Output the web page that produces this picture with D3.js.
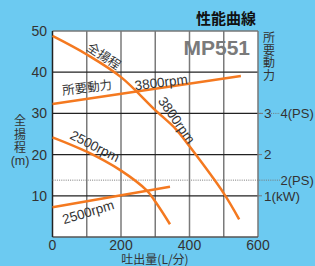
<!DOCTYPE html>
<html><head><meta charset="utf-8">
<script src="https://cdn.jsdelivr.net/npm/d3@7"></script>
<style>html,body{margin:0;padding:0;background:#6ccaf1;}svg{display:block;}</style>
</head><body>
<script>
// ---- data ----
const xTicks = [0, 200, 400, 600];
const xGrid = [100, 200, 300, 400, 500];
const yTicks = [10, 20, 30, 40, 50];
const yGrid = [10, 20, 30, 40];
const head3800 = [[0,48.8],[100,44.3],[200,38.8],[300,30.8],[360,26.2],[400,22],[500,10.6],[545,4.3]];
const power3800 = [[0,32.3],[550,39.1]];
const head2500 = [[0,24.2],[100,20.7],[200,16.1],[275,11.3],[300,8.6],[343,3.1]];
const power2500 = [[0,7.2],[343,12.2]];
const kWTicks = [1, 2, 3];        // right axis (kW), 1 kW = 10 m on left scale
const psMarks = [{label:"2(PS)", kw:1.38}, {label:"4(PS)", kw:3}];
const curveLabels = [
  {text:"全揚程", x:150, y:43.9, a:34},
  {text:"所要動力", x:101, y:36.3, a:-7},
  {text:"3800rpm", x:317, y:37.6, a:-7},
  {text:"3800rpm", x:363, y:28.4, a:55},
  {text:"2500rpm", x:124, y:22.1, a:27},
  {text:"2500rpm", x:104, y:6.1, a:-17}
];

// ---- chart ----
const W = 315, H = 266;
const svg = d3.select("body").append("svg").attr("width", W).attr("height", H);
svg.append("rect").attr("width", W).attr("height", H).attr("fill", "#6ccaf1");
const x = d3.scaleLinear().domain([0, 600]).range([52.5, 258]);
const y = d3.scaleLinear().domain([0, 50]).range([237, 31]);
const yk = d3.scaleLinear().domain([0, 5]).range([237, 31]);
const font = "'Liberation Sans', Arial, sans-serif";
const cjk = "'Noto Sans CJK JP', sans-serif";

svg.append("rect").attr("x", x(0)).attr("y", y(50)).attr("width", x(600)-x(0)).attr("height", y(0)-y(50)).attr("fill", "#fff");

// grid
svg.selectAll(".vg").data(xGrid).enter().append("line")
  .attr("x1", d=>x(d)).attr("x2", d=>x(d)).attr("y1", y(0)).attr("y2", y(50))
  .attr("stroke", "#7a7a7a").attr("stroke-width", 1.5);
svg.selectAll(".hg").data(yGrid).enter().append("line")
  .attr("x1", x(0)).attr("x2", x(600)).attr("y1", d=>y(d)).attr("y2", d=>y(d))
  .attr("stroke", "#222").attr("stroke-width", 1.3);
// right short ticks
svg.selectAll(".rt").data(kWTicks).enter().append("line")
  .attr("x1", x(600)).attr("x2", x(600)+4).attr("y1", d=>yk(d)).attr("y2", d=>yk(d))
  .attr("stroke", "#777").attr("stroke-width", 1);
// border
svg.append("line").attr("x1", x(0)).attr("x2", x(600)).attr("y1", y(50)).attr("y2", y(50)).attr("stroke", "#777").attr("stroke-width", 1.3);
svg.append("line").attr("x1", x(600)).attr("x2", x(600)).attr("y1", y(50)).attr("y2", y(0)).attr("stroke", "#777").attr("stroke-width", 1.5);
svg.append("line").attr("x1", x(0)).attr("x2", x(600)).attr("y1", y(0)).attr("y2", y(0)).attr("stroke", "#555").attr("stroke-width", 1.5);
svg.append("line").attr("x1", x(0)).attr("x2", x(0)).attr("y1", y(50)).attr("y2", y(0)).attr("stroke", "#222").attr("stroke-width", 1.5);

// PS dotted marks
const ps2 = psMarks[0], ps4 = psMarks[1];
svg.append("line").attr("x1", x(0)).attr("x2", 280).attr("y1", yk(ps2.kw)).attr("y2", yk(ps2.kw))
  .attr("stroke", "#777").attr("stroke-width", 1).attr("stroke-dasharray", "1,1.2");
svg.append("line").attr("x1", 271).attr("x2", 280).attr("y1", yk(ps4.kw)).attr("y2", yk(ps4.kw))
  .attr("stroke", "#777").attr("stroke-width", 1).attr("stroke-dasharray", "1,1.2");
svg.append("line").attr("x1", x(600)).attr("x2", 263).attr("y1", yk(ps4.kw)).attr("y2", yk(ps4.kw))
  .attr("stroke", "#777").attr("stroke-width", 1).attr("stroke-dasharray", "1,1");
svg.selectAll(".ps").data(psMarks).enter().append("text")
  .attr("x", 280.5).attr("y", d=>yk(d.kw)).attr("dy", "0.36em")
  .attr("font-family", font).attr("font-size", 13).attr("fill", "#333").text(d=>d.label);

// right kW labels
svg.selectAll(".kw").data(kWTicks).enter().append("text")
  .attr("x", 264).attr("y", d=>yk(d)).attr("dy", "0.36em")
  .attr("font-family", font).attr("font-size", 13.5).attr("fill", "#333")
  .text(d=> d===1 ? "1(kW)" : String(d));

// curves
const line = d3.line().x(d=>x(d[0])).y(d=>y(d[1])).curve(d3.curveCatmullRom);
[head3800, power3800, head2500, power2500].forEach(s=>{
  svg.append("path").attr("d", line(s)).attr("fill", "none")
    .attr("stroke", "#f47920").attr("stroke-width", 2.5);
});

// curve labels
svg.selectAll(".cl").data(curveLabels).enter().append("text")
  .attr("transform", d=>`translate(${x(d.x)},${y(d.y)}) rotate(${d.a})`)
  .attr("text-anchor", "middle").attr("dy", "0.36em")
  .attr("font-family", d=>/rpm/.test(d.text)? font : cjk).attr("font-size", d=>/rpm/.test(d.text)?13.5:12.5)
  .attr("fill", "#333").text(d=>d.text);

// axis tick labels
svg.selectAll(".xt").data(xTicks).enter().append("text")
  .attr("x", d=>x(d)).attr("y", 250).attr("text-anchor", "middle")
  .attr("font-family", font).attr("font-size", 14).attr("fill", "#333").text(d=>d);
svg.selectAll(".yt").data(yTicks).enter().append("text")
  .attr("x", 47).attr("y", d=>y(d)).attr("dy", "0.36em").attr("text-anchor", "end")
  .attr("font-family", font).attr("font-size", 14).attr("fill", "#333").text(d=>d);

// axis titles
svg.append("text").attr("x", 155).attr("y", 264).attr("text-anchor", "middle")
  .attr("font-family", cjk).attr("font-size", 12).attr("fill", "#333").text("吐出量(L/分)");
svg.append("text").attr("x", 20).attr("y", 114.5)
  .style("writing-mode", "vertical-rl").style("letter-spacing", "1.5px")
  .attr("font-family", cjk).attr("font-size", 12).attr("fill", "#333").text("全揚程");
svg.append("text").attr("x", 20).attr("y", 165).attr("text-anchor", "middle")
  .attr("font-family", font).attr("font-size", 12.5).attr("fill", "#333").text("(m)");
svg.append("text").attr("x", 269).attr("y", 31.5)
  .style("writing-mode", "vertical-rl").style("letter-spacing", "0.5px")
  .attr("font-family", cjk).attr("font-size", 12).attr("fill", "#333").text("所要動力");

// titles
svg.append("text").attr("x", 256).attr("y", 24).attr("text-anchor", "end")
  .attr("font-family", cjk).attr("font-weight", "bold").attr("font-size", 15).attr("fill", "#111").text("性能曲線");
svg.append("text").attr("x", 250).attr("y", 55).attr("text-anchor", "end")
  .attr("font-family", font).attr("font-weight", "bold").attr("font-size", 21).attr("fill", "#7a7a7a").text("MP551");
</script>
</body></html>
